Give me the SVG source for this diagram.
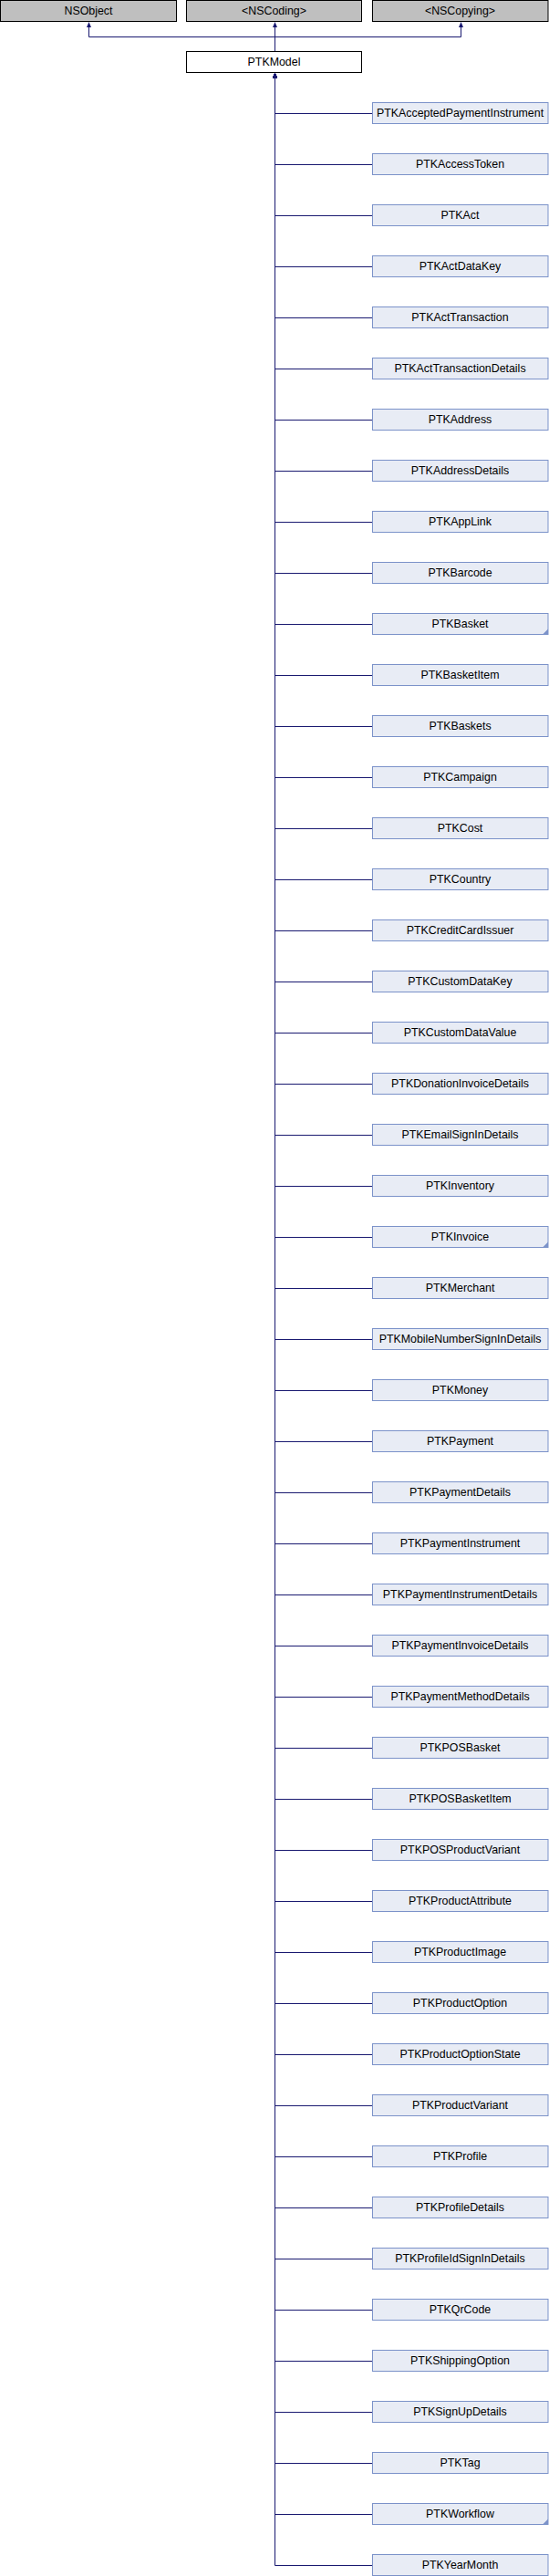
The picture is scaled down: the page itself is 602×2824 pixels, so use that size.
<svg xmlns="http://www.w3.org/2000/svg" width="602" height="2824" viewBox="0 0 602 2824">
<style>
text{font-family:"Liberation Sans",Arial,sans-serif;font-size:12.4px;fill:#000;text-anchor:middle}
.ext{fill:#bfbfbf;stroke:#000;stroke-width:1}
.cur{fill:#fff;stroke:#000;stroke-width:1}
.cls{fill:#e8ecf5;stroke:#7b92c9;stroke-width:1}
.fold{fill:#7b92c9}
.e{fill:none;stroke:#191970;stroke-width:1;marker-end:url(#ah)}
</style>
<defs>
<marker id="ah" markerWidth="6" markerHeight="6" refX="0" refY="2.5" orient="auto" markerUnits="userSpaceOnUse"><path d="M0,0 L6,2.5 L0,5 z" fill="#191970"/></marker>
</defs>
<g id="edges">
<path class="e" d="M301.5,56.5 V40.5 H97.5 V30"/>
<path class="e" d="M301.5,56.5 V30"/>
<path class="e" d="M301.5,56.5 V40.5 H505.5 V30"/>
<path class="e" d="M408.5,124.5 H301.5 V86"/>
<path class="e" d="M408.5,180.5 H301.5 V86"/>
<path class="e" d="M408.5,236.5 H301.5 V86"/>
<path class="e" d="M408.5,292.5 H301.5 V86"/>
<path class="e" d="M408.5,348.5 H301.5 V86"/>
<path class="e" d="M408.5,404.5 H301.5 V86"/>
<path class="e" d="M408.5,460.5 H301.5 V86"/>
<path class="e" d="M408.5,516.5 H301.5 V86"/>
<path class="e" d="M408.5,572.5 H301.5 V86"/>
<path class="e" d="M408.5,628.5 H301.5 V86"/>
<path class="e" d="M408.5,684.5 H301.5 V86"/>
<path class="e" d="M408.5,740.5 H301.5 V86"/>
<path class="e" d="M408.5,796.5 H301.5 V86"/>
<path class="e" d="M408.5,852.5 H301.5 V86"/>
<path class="e" d="M408.5,908.5 H301.5 V86"/>
<path class="e" d="M408.5,964.5 H301.5 V86"/>
<path class="e" d="M408.5,1020.5 H301.5 V86"/>
<path class="e" d="M408.5,1076.5 H301.5 V86"/>
<path class="e" d="M408.5,1132.5 H301.5 V86"/>
<path class="e" d="M408.5,1188.5 H301.5 V86"/>
<path class="e" d="M408.5,1244.5 H301.5 V86"/>
<path class="e" d="M408.5,1300.5 H301.5 V86"/>
<path class="e" d="M408.5,1356.5 H301.5 V86"/>
<path class="e" d="M408.5,1412.5 H301.5 V86"/>
<path class="e" d="M408.5,1468.5 H301.5 V86"/>
<path class="e" d="M408.5,1524.5 H301.5 V86"/>
<path class="e" d="M408.5,1580.5 H301.5 V86"/>
<path class="e" d="M408.5,1636.5 H301.5 V86"/>
<path class="e" d="M408.5,1692.5 H301.5 V86"/>
<path class="e" d="M408.5,1748.5 H301.5 V86"/>
<path class="e" d="M408.5,1804.5 H301.5 V86"/>
<path class="e" d="M408.5,1860.5 H301.5 V86"/>
<path class="e" d="M408.5,1916.5 H301.5 V86"/>
<path class="e" d="M408.5,1972.5 H301.5 V86"/>
<path class="e" d="M408.5,2028.5 H301.5 V86"/>
<path class="e" d="M408.5,2084.5 H301.5 V86"/>
<path class="e" d="M408.5,2140.5 H301.5 V86"/>
<path class="e" d="M408.5,2196.5 H301.5 V86"/>
<path class="e" d="M408.5,2252.5 H301.5 V86"/>
<path class="e" d="M408.5,2308.5 H301.5 V86"/>
<path class="e" d="M408.5,2364.5 H301.5 V86"/>
<path class="e" d="M408.5,2420.5 H301.5 V86"/>
<path class="e" d="M408.5,2476.5 H301.5 V86"/>
<path class="e" d="M408.5,2532.5 H301.5 V86"/>
<path class="e" d="M408.5,2588.5 H301.5 V86"/>
<path class="e" d="M408.5,2644.5 H301.5 V86"/>
<path class="e" d="M408.5,2700.5 H301.5 V86"/>
<path class="e" d="M408.5,2756.5 H301.5 V86"/>
<path class="e" d="M408.5,2812.5 H301.5 V86"/>
</g>
<g id="NSObject"><rect class="ext" x="0.5" y="0.5" width="193" height="23"/><text x="97" y="16">NSObject</text></g>
<g id="NSCoding"><rect class="ext" x="204.5" y="0.5" width="192" height="23"/><text x="300.5" y="16">&lt;NSCoding&gt;</text></g>
<g id="NSCopying"><rect class="ext" x="408.5" y="0.5" width="192.5" height="23"/><text x="504.5" y="16">&lt;NSCopying&gt;</text></g>
<g id="PTKModel"><rect class="cur" x="204.5" y="56.5" width="192" height="23"/><text x="300.5" y="72">PTKModel</text></g>
<g id="PTKAcceptedPaymentInstrument"><rect class="cls" x="408.5" y="112.5" width="192.5" height="23"/><text x="504.5" y="128">PTKAcceptedPaymentInstrument</text></g>
<g id="PTKAccessToken"><rect class="cls" x="408.5" y="168.5" width="192.5" height="23"/><text x="504.5" y="184">PTKAccessToken</text></g>
<g id="PTKAct"><rect class="cls" x="408.5" y="224.5" width="192.5" height="23"/><text x="504.5" y="240">PTKAct</text></g>
<g id="PTKActDataKey"><rect class="cls" x="408.5" y="280.5" width="192.5" height="23"/><text x="504.5" y="296">PTKActDataKey</text></g>
<g id="PTKActTransaction"><rect class="cls" x="408.5" y="336.5" width="192.5" height="23"/><text x="504.5" y="352">PTKActTransaction</text></g>
<g id="PTKActTransactionDetails"><rect class="cls" x="408.5" y="392.5" width="192.5" height="23"/><text x="504.5" y="408">PTKActTransactionDetails</text></g>
<g id="PTKAddress"><rect class="cls" x="408.5" y="448.5" width="192.5" height="23"/><text x="504.5" y="464">PTKAddress</text></g>
<g id="PTKAddressDetails"><rect class="cls" x="408.5" y="504.5" width="192.5" height="23"/><text x="504.5" y="520">PTKAddressDetails</text></g>
<g id="PTKAppLink"><rect class="cls" x="408.5" y="560.5" width="192.5" height="23"/><text x="504.5" y="576">PTKAppLink</text></g>
<g id="PTKBarcode"><rect class="cls" x="408.5" y="616.5" width="192.5" height="23"/><text x="504.5" y="632">PTKBarcode</text></g>
<g id="PTKBasket"><rect class="cls" x="408.5" y="672.5" width="192.5" height="23"/><path class="fold" d="M601,689.5 V695.5 H595 z"/><text x="504.5" y="688">PTKBasket</text></g>
<g id="PTKBasketItem"><rect class="cls" x="408.5" y="728.5" width="192.5" height="23"/><text x="504.5" y="744">PTKBasketItem</text></g>
<g id="PTKBaskets"><rect class="cls" x="408.5" y="784.5" width="192.5" height="23"/><text x="504.5" y="800">PTKBaskets</text></g>
<g id="PTKCampaign"><rect class="cls" x="408.5" y="840.5" width="192.5" height="23"/><text x="504.5" y="856">PTKCampaign</text></g>
<g id="PTKCost"><rect class="cls" x="408.5" y="896.5" width="192.5" height="23"/><text x="504.5" y="912">PTKCost</text></g>
<g id="PTKCountry"><rect class="cls" x="408.5" y="952.5" width="192.5" height="23"/><text x="504.5" y="968">PTKCountry</text></g>
<g id="PTKCreditCardIssuer"><rect class="cls" x="408.5" y="1008.5" width="192.5" height="23"/><text x="504.5" y="1024">PTKCreditCardIssuer</text></g>
<g id="PTKCustomDataKey"><rect class="cls" x="408.5" y="1064.5" width="192.5" height="23"/><text x="504.5" y="1080">PTKCustomDataKey</text></g>
<g id="PTKCustomDataValue"><rect class="cls" x="408.5" y="1120.5" width="192.5" height="23"/><text x="504.5" y="1136">PTKCustomDataValue</text></g>
<g id="PTKDonationInvoiceDetails"><rect class="cls" x="408.5" y="1176.5" width="192.5" height="23"/><text x="504.5" y="1192">PTKDonationInvoiceDetails</text></g>
<g id="PTKEmailSignInDetails"><rect class="cls" x="408.5" y="1232.5" width="192.5" height="23"/><text x="504.5" y="1248">PTKEmailSignInDetails</text></g>
<g id="PTKInventory"><rect class="cls" x="408.5" y="1288.5" width="192.5" height="23"/><text x="504.5" y="1304">PTKInventory</text></g>
<g id="PTKInvoice"><rect class="cls" x="408.5" y="1344.5" width="192.5" height="23"/><path class="fold" d="M601,1361.5 V1367.5 H595 z"/><text x="504.5" y="1360">PTKInvoice</text></g>
<g id="PTKMerchant"><rect class="cls" x="408.5" y="1400.5" width="192.5" height="23"/><text x="504.5" y="1416">PTKMerchant</text></g>
<g id="PTKMobileNumberSignInDetails"><rect class="cls" x="408.5" y="1456.5" width="192.5" height="23"/><text x="504.5" y="1472">PTKMobileNumberSignInDetails</text></g>
<g id="PTKMoney"><rect class="cls" x="408.5" y="1512.5" width="192.5" height="23"/><text x="504.5" y="1528">PTKMoney</text></g>
<g id="PTKPayment"><rect class="cls" x="408.5" y="1568.5" width="192.5" height="23"/><text x="504.5" y="1584">PTKPayment</text></g>
<g id="PTKPaymentDetails"><rect class="cls" x="408.5" y="1624.5" width="192.5" height="23"/><text x="504.5" y="1640">PTKPaymentDetails</text></g>
<g id="PTKPaymentInstrument"><rect class="cls" x="408.5" y="1680.5" width="192.5" height="23"/><text x="504.5" y="1696">PTKPaymentInstrument</text></g>
<g id="PTKPaymentInstrumentDetails"><rect class="cls" x="408.5" y="1736.5" width="192.5" height="23"/><text x="504.5" y="1752">PTKPaymentInstrumentDetails</text></g>
<g id="PTKPaymentInvoiceDetails"><rect class="cls" x="408.5" y="1792.5" width="192.5" height="23"/><text x="504.5" y="1808">PTKPaymentInvoiceDetails</text></g>
<g id="PTKPaymentMethodDetails"><rect class="cls" x="408.5" y="1848.5" width="192.5" height="23"/><text x="504.5" y="1864">PTKPaymentMethodDetails</text></g>
<g id="PTKPOSBasket"><rect class="cls" x="408.5" y="1904.5" width="192.5" height="23"/><text x="504.5" y="1920">PTKPOSBasket</text></g>
<g id="PTKPOSBasketItem"><rect class="cls" x="408.5" y="1960.5" width="192.5" height="23"/><text x="504.5" y="1976">PTKPOSBasketItem</text></g>
<g id="PTKPOSProductVariant"><rect class="cls" x="408.5" y="2016.5" width="192.5" height="23"/><text x="504.5" y="2032">PTKPOSProductVariant</text></g>
<g id="PTKProductAttribute"><rect class="cls" x="408.5" y="2072.5" width="192.5" height="23"/><text x="504.5" y="2088">PTKProductAttribute</text></g>
<g id="PTKProductImage"><rect class="cls" x="408.5" y="2128.5" width="192.5" height="23"/><text x="504.5" y="2144">PTKProductImage</text></g>
<g id="PTKProductOption"><rect class="cls" x="408.5" y="2184.5" width="192.5" height="23"/><text x="504.5" y="2200">PTKProductOption</text></g>
<g id="PTKProductOptionState"><rect class="cls" x="408.5" y="2240.5" width="192.5" height="23"/><text x="504.5" y="2256">PTKProductOptionState</text></g>
<g id="PTKProductVariant"><rect class="cls" x="408.5" y="2296.5" width="192.5" height="23"/><text x="504.5" y="2312">PTKProductVariant</text></g>
<g id="PTKProfile"><rect class="cls" x="408.5" y="2352.5" width="192.5" height="23"/><text x="504.5" y="2368">PTKProfile</text></g>
<g id="PTKProfileDetails"><rect class="cls" x="408.5" y="2408.5" width="192.5" height="23"/><text x="504.5" y="2424">PTKProfileDetails</text></g>
<g id="PTKProfileIdSignInDetails"><rect class="cls" x="408.5" y="2464.5" width="192.5" height="23"/><text x="504.5" y="2480">PTKProfileIdSignInDetails</text></g>
<g id="PTKQrCode"><rect class="cls" x="408.5" y="2520.5" width="192.5" height="23"/><text x="504.5" y="2536">PTKQrCode</text></g>
<g id="PTKShippingOption"><rect class="cls" x="408.5" y="2576.5" width="192.5" height="23"/><text x="504.5" y="2592">PTKShippingOption</text></g>
<g id="PTKSignUpDetails"><rect class="cls" x="408.5" y="2632.5" width="192.5" height="23"/><text x="504.5" y="2648">PTKSignUpDetails</text></g>
<g id="PTKTag"><rect class="cls" x="408.5" y="2688.5" width="192.5" height="23"/><text x="504.5" y="2704">PTKTag</text></g>
<g id="PTKWorkflow"><rect class="cls" x="408.5" y="2744.5" width="192.5" height="23"/><path class="fold" d="M601,2761.5 V2767.5 H595 z"/><text x="504.5" y="2760">PTKWorkflow</text></g>
<g id="PTKYearMonth"><rect class="cls" x="408.5" y="2800.5" width="192.5" height="23"/><text x="504.5" y="2816">PTKYearMonth</text></g>
</svg>
